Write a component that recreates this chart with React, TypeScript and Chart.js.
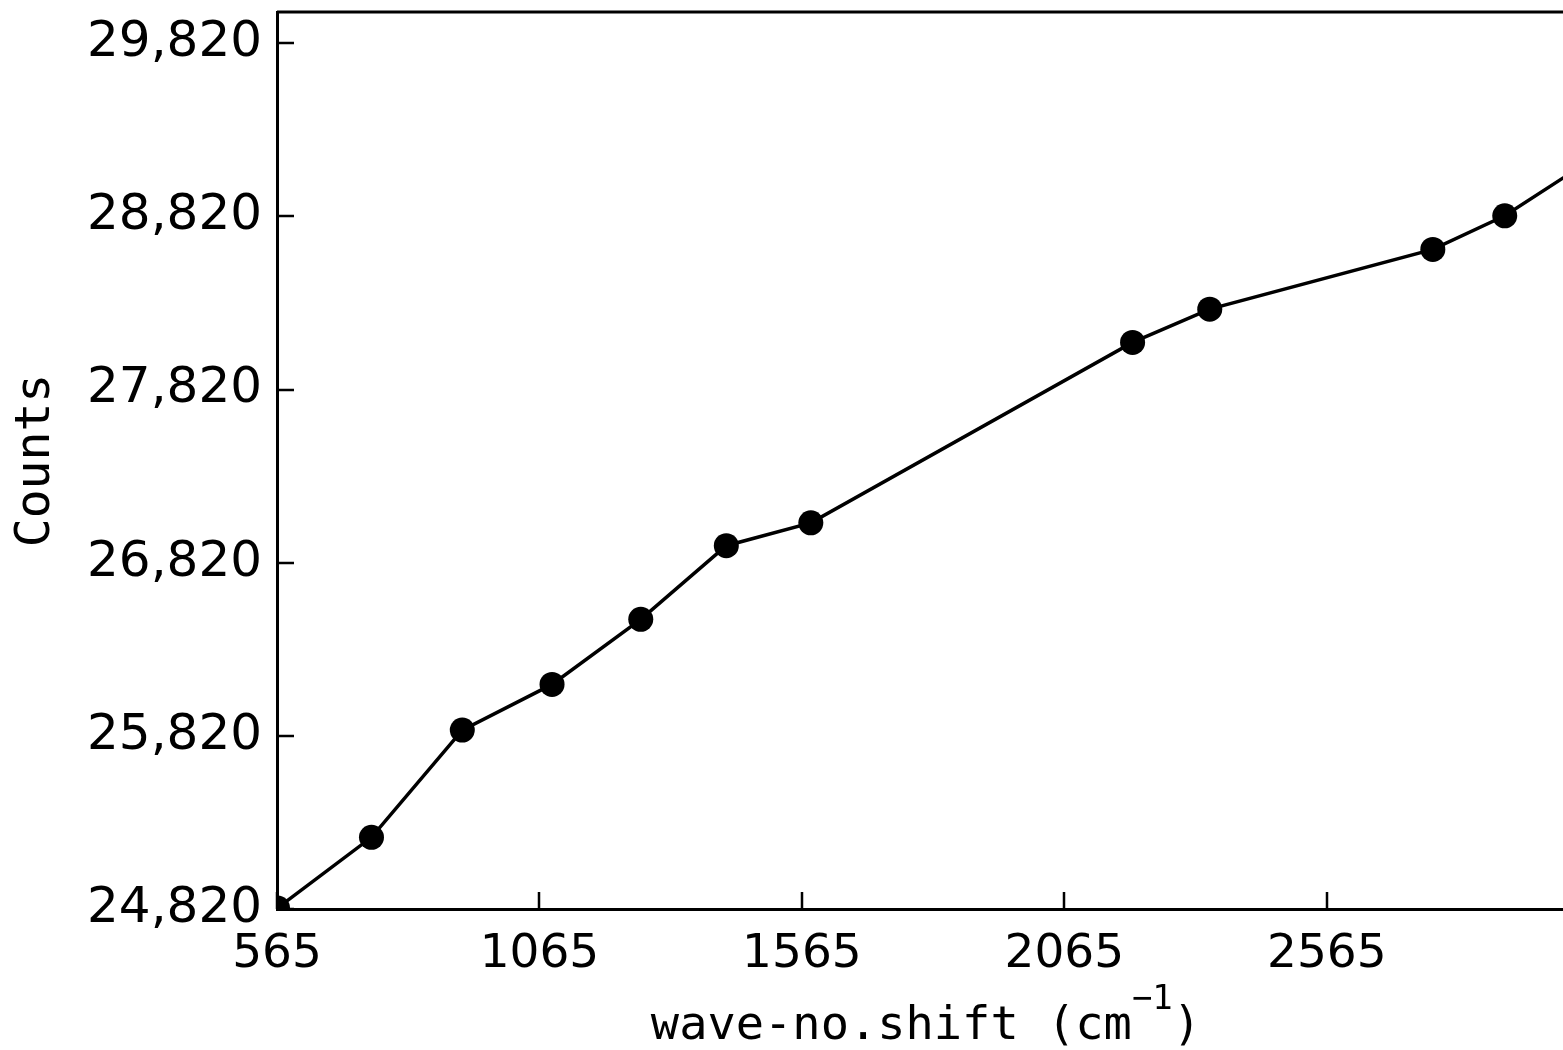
import React, { useEffect, useRef } from "react";
import { Chart, registerables } from "chart.js";

Chart.register(...registerables);

// Raman shift positions (cm^-1) and detector counts
const waveShift = [566, 745, 918, 1089, 1258, 1421, 1582, 2195, 2342, 2767, 2904, 3060];
const counts = [24826, 25234, 25853, 26117, 26493, 26918, 27050, 28092, 28284, 28629, 28823, 29130];

const xTickValues = [565, 1065, 1565, 2065, 2565];
const yTickValues = [24820, 25820, 26820, 27820, 28820, 29820];
const yTickLabels = ["24,820", "25,820", "26,820", "27,820", "28,820", "29,820"];

const X_MIN = 565;
const X_MAX = 3015;
const Y_MIN = 24820;
const Y_MAX = 30000;

const MONO = "'DejaVu Sans Mono', monospace";
const SANS = "'DejaVu Sans', sans-serif";
const TICK_LEN = 17;

// Top frame line, inward tick marks and the x title with a superscript unit
const framePlugin = {
  id: "frameAndTitle",
  afterDraw(chart: any) {
    const { ctx, chartArea, scales } = chart;
    const { left, right, top, bottom } = chartArea;
    const x = scales.x;
    const y = scales.y;
    ctx.save();
    ctx.strokeStyle = "#000";
    ctx.lineWidth = 3;
    ctx.beginPath();
    ctx.moveTo(left, top);
    ctx.lineTo(right, top);
    ctx.stroke();

    ctx.lineWidth = 2.5;
    ctx.beginPath();
    for (const v of xTickValues) {
      const px = Math.round(x.getPixelForValue(v));
      ctx.moveTo(px, bottom);
      ctx.lineTo(px, bottom - TICK_LEN);
    }
    for (const v of yTickValues) {
      const py = Math.round(y.getPixelForValue(v));
      ctx.moveTo(left, py);
      ctx.lineTo(left + TICK_LEN, py);
    }
    ctx.stroke();

    // x axis title: "wave-no.shift (cm⁻¹)"
    const main = "wave-no.shift (cm";
    const sup = "\u22121";
    const close = ")";
    const mainFont = `47px ${MONO}`;
    const supFont = `34px ${MONO}`;
    ctx.fillStyle = "#000";
    ctx.textBaseline = "alphabetic";
    ctx.font = mainFont;
    const wMain = ctx.measureText(main).width;
    const wClose = ctx.measureText(close).width;
    ctx.font = supFont;
    const wSup = ctx.measureText(sup).width;
    const total = wMain + wSup + wClose;
    const cx = (left + right) / 2 + 6;
    let tx = cx - total / 2;
    const baseY = 1039;
    ctx.font = mainFont;
    ctx.textAlign = "left";
    ctx.fillText(main, tx, baseY);
    tx += wMain;
    ctx.font = supFont;
    ctx.fillText(sup, tx, baseY - 30);
    tx += wSup;
    ctx.font = mainFont;
    ctx.fillText(close, tx, baseY);
    ctx.restore();
  },
};

export default function App() {
  const canvasRef = useRef<HTMLCanvasElement | null>(null);

  useEffect(() => {
    const canvas = canvasRef.current;
    if (!canvas) return;
    const chart = new Chart(canvas, {
      type: "line",
      data: {
        datasets: [
          {
            data: waveShift.map((w, i) => ({ x: w, y: counts[i] })),
            borderColor: "#000",
            borderWidth: 3.5,
            backgroundColor: "#000",
            pointBackgroundColor: "#000",
            pointBorderColor: "#000",
            pointRadius: 12.5,
            pointBorderWidth: 0,
            tension: 0,
            clip: 0,
          },
        ],
      },
      options: {
        responsive: false,
        animation: false,
        events: [],
        layout: { autoPadding: false, padding: { top: 12, right: 0, bottom: 0, left: 0 } },
        plugins: {
          legend: { display: false },
          tooltip: { enabled: false },
        },
        scales: {
          x: {
            type: "linear",
            min: X_MIN,
            max: X_MAX,
            afterBuildTicks: (s: any) => {
              s.ticks = xTickValues.map((value) => ({ value }));
            },
            afterFit: (s: any) => {
              s.height = 141;
              s.paddingLeft = 0;
              s.paddingRight = 0;
            },
            ticks: {
              color: "#000",
              font: { family: SANS, size: 47 },
              padding: 18,
              maxRotation: 0,
              autoSkip: false,
              callback: (v: any) => String(v),
            },
            grid: { display: false, drawTicks: false },
            border: { display: true, color: "#000", width: 3 },
          },
          y: {
            type: "linear",
            min: Y_MIN,
            max: Y_MAX,
            afterBuildTicks: (s: any) => {
              s.ticks = yTickValues.map((value) => ({ value }));
            },
            afterFit: (s: any) => {
              s.width = 277;
              s.paddingTop = 0;
              s.paddingBottom = 0;
            },
            ticks: {
              color: "#000",
              font: { family: SANS, size: 50 },
              padding: 15,
              autoSkip: false,
              callback: (_v: any, i: number) => yTickLabels[i],
            },
            grid: { display: false, drawTicks: false },
            border: { display: true, color: "#000", width: 3 },
            title: {
              display: true,
              text: "Counts",
              color: "#000",
              font: { family: MONO, size: 48 },
              padding: { top: 8, bottom: 0 },
            },
          },
        },
      },
      plugins: [framePlugin],
    });
    return () => chart.destroy();
  }, []);

  return (
    <div style={{ position: "fixed", left: 0, top: 0, width: 1563, height: 1050, background: "#fff" }}>
      <canvas ref={canvasRef} width={1563} height={1050} style={{ display: "block" }} />
    </div>
  );
}
